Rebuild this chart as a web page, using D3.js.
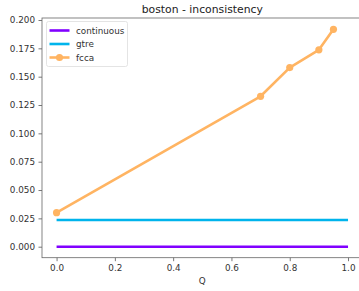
<!DOCTYPE html>
<html><head><meta charset="utf-8">
<script src="https://cdn.jsdelivr.net/npm/d3@7"></script>
<style>body{margin:0;background:#fff}svg{display:block;font-family:"DejaVu Sans",sans-serif}</style>
</head><body><svg id="c" width="359" height="291"></svg>
<script>
const title = "boston - inconsistency";
const xLabel = "Q";
const seriesNames = ["continuous", "gtre", "fcca"];
const seriesColors = ["#8000ff", "#00b4ec", "#ffb462"];
const continuousQ = [0, 1];
const continuousVals = [0, 0];
const gtreQ = [0, 1];
const gtreVals = [0.0236, 0.0236];
const fccaQ = [0, 0.7, 0.8, 0.9, 0.95];
const fccaVals = [0.030, 0.1327, 0.158, 0.1737, 0.1918];
const xTicks = [0, 0.2, 0.4, 0.6, 0.8, 1.0];
const yTicks = [0, 0.025, 0.05, 0.075, 0.1, 0.125, 0.15, 0.175, 0.2];

const svg = d3.select("#c");
const L = 42, R = 362.6, T = 18, B = 257.7;
const x = d3.scaleLinear().domain([-0.05, 1.05]).range([L, R]);
const y = d3.scaleLinear()
  .domain([0 - (B - 246.7) / 1133.5, 0.2 + (20 - T) / 1133.5]).range([B, T]);

const fs = 8.8;
const ax = svg.append("g").attr("transform", `translate(0,${B})`)
  .call(d3.axisBottom(x).tickValues(xTicks).tickFormat(d3.format(".1f")).tickSize(3.5).tickPadding(3.5));
const ay = svg.append("g").attr("transform", `translate(${L},0)`)
  .call(d3.axisLeft(y).tickValues(yTicks).tickFormat(d3.format(".3f")).tickSize(3.5).tickPadding(3.5));
[ax, ay].forEach(g => {
  g.selectAll("text").attr("font-size", fs).attr("fill", "#333").attr("font-family", "DejaVu Sans");
  g.selectAll("line").attr("stroke", "#555").attr("stroke-width", 0.8);
  g.select(".domain").remove();
});
svg.append("rect").attr("x", L).attr("y", T).attr("width", R - L).attr("height", B - T)
  .attr("fill", "none").attr("stroke", "#666").attr("stroke-width", 0.8);

const line = d3.line().x(d => x(d[0])).y(d => y(d[1]));
const data = [
  d3.zip(continuousQ, continuousVals),
  d3.zip(gtreQ, gtreVals),
  d3.zip(fccaQ, fccaVals)
];
data.forEach((pts, i) => {
  svg.append("path").attr("d", line(pts)).attr("fill", "none")
    .attr("stroke", seriesColors[i]).attr("stroke-width", 2.6).attr("stroke-linejoin", "round");
});
svg.append("g").selectAll("circle").data(data[2]).join("circle")
  .attr("cx", d => x(d[0])).attr("cy", d => y(d[1])).attr("r", 3.6).attr("fill", seriesColors[2]);

svg.append("text").attr("x", (L + R) / 2).attr("y", 13).attr("text-anchor", "middle")
  .attr("font-size", 10.8).attr("fill", "#222").text(title);
svg.append("text").attr("x", x(0.5)).attr("y", 284).attr("text-anchor", "middle")
  .attr("font-size", fs).attr("fill", "#333").text(xLabel);

const lg = svg.append("g");
lg.append("rect").attr("x", 46.5).attr("y", 21.5).attr("width", 81).attr("height", 45).attr("rx", 2)
  .attr("fill", "#fff").attr("stroke", "#ddd").attr("stroke-width", 0.8);
seriesNames.forEach((n, i) => {
  const yy = 30.5 + i * 13.5;
  lg.append("line").attr("x1", 49.5).attr("x2", 69.5).attr("y1", yy).attr("y2", yy)
    .attr("stroke", seriesColors[i]).attr("stroke-width", 2.6);
  if (i === 2) lg.append("circle").attr("cx", 59.5).attr("cy", yy).attr("r", 3.6).attr("fill", seriesColors[i]);
  lg.append("text").attr("x", 76).attr("y", yy + 3).attr("font-size", fs).attr("fill", "#333").text(n);
});
</script></body></html>
